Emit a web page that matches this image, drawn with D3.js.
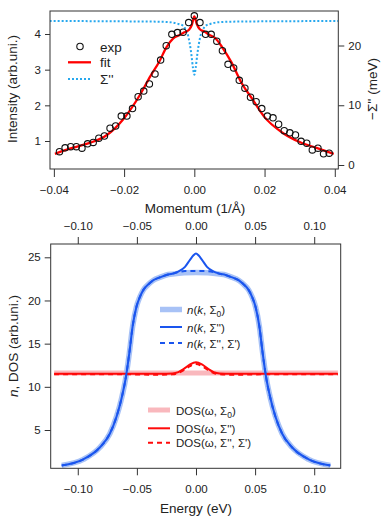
<!DOCTYPE html>
<html><head><meta charset="utf-8">
<script src="https://cdn.jsdelivr.net/npm/d3@7"></script>
<style>
html,body{margin:0;padding:0;background:#fff;}
svg{display:block;font-family:"Liberation Sans",Arial,Helvetica,sans-serif;}
</style></head>
<body>
<svg id="c" width="390" height="519"></svg>
<script>
// ---------- Top panel data ----------
const expK = [-0.0384,-0.0368,-0.0352,-0.0336,-0.0320,-0.0304,-0.0288,-0.0272,-0.0256,-0.0240,-0.0224,-0.0208,-0.0192,-0.0176,-0.0160,-0.0144,-0.0128,-0.0112,-0.0096,-0.0080,-0.0064,-0.0048,-0.0032,-0.0016,0.0000,0.0016,0.0032,0.0048,0.0064,0.0080,0.0096,0.0112,0.0128,0.0144,0.0160,0.0176,0.0192,0.0208,0.0224,0.0240,0.0256,0.0272,0.0288,0.0304,0.0320,0.0336,0.0352,0.0368,0.0384];
const expI = [0.70,0.81,0.84,0.84,0.80,0.92,0.96,1.08,1.14,1.36,1.42,1.70,1.70,1.91,2.24,2.40,2.60,2.88,3.27,3.67,3.99,4.04,4.05,4.32,4.51,4.32,3.99,3.99,3.80,3.53,3.15,3.05,2.70,2.48,2.23,2.10,1.91,1.70,1.65,1.47,1.29,1.23,1.17,0.99,0.94,0.75,0.80,0.64,0.66];
const fitK = [-0.0397,-0.035,-0.030,-0.025,-0.020,-0.0155,-0.0125,-0.010,-0.008,-0.006,-0.004,-0.003,-0.0015,-0.0007,0,0.0007,0.0015,0.003,0.004,0.006,0.008,0.0105,0.0135,0.0165,0.020,0.025,0.030,0.035,0.0397];
const fitI = [0.64,0.80,0.94,1.16,1.64,2.29,2.82,3.22,3.62,3.88,3.98,4.04,4.12,4.26,4.49,4.28,4.14,4.06,3.99,3.88,3.62,3.22,2.62,2.18,1.67,1.24,0.97,0.80,0.64];
const sigK = [-0.0412,-0.012,-0.007,-0.0045,-0.0032,-0.0024,-0.0018,-0.0013,-0.0008,-0.0004,0,0.0004,0.0008,0.0013,0.0018,0.0024,0.0032,0.0045,0.007,0.012,0.0410];
const sigV = [24.1,24.0,23.9,23.6,23.3,22.6,21.7,20.3,18.3,16.3,15.1,16.3,18.3,20.3,21.7,22.6,23.3,23.6,23.9,24.0,24.1];
const topXTicks = [-0.04,-0.02,0.00,0.02,0.04];
const topYLTicks = [1,2,3,4];
const topYRTicks = [0,10,20];

// ---------- Bottom panel data ----------
const nkE = [-0.1136,-0.0953,-0.0812,-0.0728,-0.0671,-0.0629,-0.0592,-0.0564,-0.0536,-0.0503,-0.0475,-0.0446,-0.040,-0.036,-0.030,-0.025,-0.020,-0.010,0,0.010,0.020,0.025,0.030,0.036,0.040,0.0446,0.0475,0.0503,0.0536,0.0564,0.0592,0.0629,0.0671,0.0728,0.0812,0.0953,0.1136];
const nk0 = [0.9,1.6,3.0,4.6,6.6,8.7,11.2,13.9,17.0,19.3,20.4,21.2,21.9,22.35,22.7,22.95,23.05,23.2,23.25,23.2,23.05,22.95,22.7,22.35,21.9,21.2,20.4,19.3,17.0,13.9,11.2,8.7,6.6,4.6,3.0,1.6,0.9];
const nkSE = [-0.1136,-0.0953,-0.0812,-0.0728,-0.0671,-0.0629,-0.0592,-0.0564,-0.0536,-0.0503,-0.0475,-0.0446,-0.040,-0.036,-0.030,-0.025,-0.020,-0.015,-0.0093,-0.0051,-0.0023,0,0.0023,0.0051,0.0093,0.015,0.020,0.025,0.030,0.036,0.040,0.0446,0.0475,0.0503,0.0536,0.0564,0.0592,0.0629,0.0671,0.0728,0.0812,0.0953,0.1136];
const nkS2 = [0.9,1.6,3.0,4.6,6.6,8.7,11.2,13.9,17.0,19.3,20.4,21.2,21.9,22.35,22.7,22.95,23.1,23.35,23.9,24.7,25.2,25.45,25.2,24.7,23.9,23.35,23.1,22.95,22.7,22.35,21.9,21.2,20.4,19.3,17.0,13.9,11.2,8.7,6.6,4.6,3.0,1.6,0.9];
const nkS12 = [0.9,1.6,3.0,4.6,6.6,8.7,11.2,13.9,17.0,19.3,20.4,21.2,21.9,22.35,22.7,22.95,23.1,23.3,23.4,23.4,23.4,23.4,23.4,23.4,23.4,23.3,23.1,22.95,22.7,22.35,21.9,21.2,20.4,19.3,17.0,13.9,11.2,8.7,6.6,4.6,3.0,1.6,0.9];
const dosE = [-0.120,-0.060,-0.030,-0.020,-0.015,-0.010,-0.005,0,0.005,0.010,0.015,0.020,0.030,0.060,0.120];
const dos0 = [11.6,11.6,11.6,11.6,11.6,11.6,11.6,11.6,11.6,11.6,11.6,11.6,11.6,11.6,11.6];
const dosS2 = [11.5,11.5,11.5,11.55,11.7,12.1,12.6,12.85,12.6,12.1,11.7,11.55,11.5,11.5,11.5];
const dosS12 = [11.45,11.45,11.4,11.45,11.6,11.95,12.4,12.65,12.4,11.95,11.6,11.45,11.4,11.45,11.45];
const botXTicks = [-0.10,-0.05,0.00,0.05,0.10];
const botYTicks = [5,10,15,20,25];

// ---------- Drawing ----------
const svg = d3.select("#c");
const axCol = "#333";
const fmt2 = d3.format(".2f");
const fmtI = d3.format("d");

// Top panel scales
const tL = 50, tR = 338.3, tT = 11, tB = 169;
const xT = d3.scaleLinear().domain([-0.0411, 0.0410]).range([tL, tR]);
const yTL = d3.scaleLinear().domain([1, 4]).range([141, 34]);
const yTR = d3.scaleLinear().domain([0, 20]).range([165, 45.5]);

const gt = svg.append("g");
svg.append("defs").append("clipPath").attr("id","clipT").append("rect")
  .attr("x",tL).attr("y",tT).attr("width",tR-tL).attr("height",tB-tT);

// Sigma'' dotted
gt.append("path").attr("clip-path","url(#clipT)")
  .datum(sigK.map((k,i)=>[k,sigV[i]]))
  .attr("fill","none").attr("stroke","#27a8ee").attr("stroke-width",2)
  .attr("stroke-dasharray","2,2")
  .attr("d", d3.line().x(d=>xT(d[0])).y(d=>yTR(d[1])).curve(d3.curveMonotoneX));

// fit
gt.append("path").datum(fitK.map((k,i)=>[k,fitI[i]]))
  .attr("fill","none").attr("stroke","#ff0000").attr("stroke-width",2.3)
  .attr("d", d3.line().x(d=>xT(d[0])).y(d=>yTL(d[1])).curve(d3.curveMonotoneX));

// exp circles
gt.selectAll("circle.exp").data(expK.map((k,i)=>[k,expI[i]])).enter()
  .append("circle").attr("class","exp")
  .attr("cx",d=>xT(d[0])).attr("cy",d=>yTL(d[1])).attr("r",3.2)
  .attr("fill","none").attr("stroke","#111").attr("stroke-width",1.1);

// frame
gt.append("rect").attr("x",tL).attr("y",tT).attr("width",tR-tL).attr("height",tB-tT)
  .attr("fill","none").attr("stroke",axCol).attr("stroke-width",1);

// bottom axis
const axB1 = gt.append("g").attr("transform",`translate(0,${tB})`)
  .call(d3.axisBottom(xT).tickValues(topXTicks).tickFormat(fmt2).tickSize(8).tickSizeOuter(0));
axB1.select(".domain").remove();
axB1.selectAll("line").attr("stroke",axCol);
axB1.selectAll("text").attr("font-size","11.5px").attr("fill","#222").attr("dy","0").attr("y",25);

// left axis
const axL1 = gt.append("g").attr("transform",`translate(${tL},0)`)
  .call(d3.axisLeft(yTL).tickValues(topYLTicks).tickFormat(fmtI).tickSize(5).tickSizeOuter(0));
axL1.select(".domain").remove();
axL1.selectAll("line").attr("stroke",axCol);
axL1.selectAll("text").attr("font-size","11.5px").attr("fill","#222").attr("x",-9);

// right axis
const axR1 = gt.append("g").attr("transform",`translate(${tR},0)`)
  .call(d3.axisRight(yTR).tickValues(topYRTicks).tickFormat(fmtI).tickSize(6).tickSizeOuter(0));
axR1.select(".domain").remove();
axR1.selectAll("line").attr("stroke",axCol);
axR1.selectAll("text").attr("font-size","11.5px").attr("fill","#222").attr("x",10);

// axis labels
gt.append("text").attr("transform","translate(17,89) rotate(-90)").attr("text-anchor","middle")
  .attr("font-size","13.5px").attr("fill","#222").text("Intensity (arb.uni.)");
gt.append("text").attr("transform","translate(377,89) rotate(-90)").attr("text-anchor","middle")
  .attr("font-size","13.5px").attr("fill","#222").text("\u2212\u03A3'' (meV)");
// shared momentum label between panels
gt.append("text").attr("x",195).attr("y",212.5).attr("text-anchor","middle")
  .attr("font-size","13.5px").attr("fill","#222").text("Momentum (1/\u00C5)");

// top legend
gt.append("circle").attr("cx",80).attr("cy",46.5).attr("r",3.2).attr("fill","none").attr("stroke","#111").attr("stroke-width",1.1);
gt.append("line").attr("x1",68).attr("x2",91).attr("y1",62.3).attr("y2",62.3).attr("stroke","#ff0000").attr("stroke-width",2.3);
gt.append("line").attr("x1",68).attr("x2",91).attr("y1",79).attr("y2",79).attr("stroke","#27a8ee").attr("stroke-width",2).attr("stroke-dasharray","2,2");
[["exp",46.5],["fit",62.3],["\u03A3''",79]].forEach(([t,y])=>{
  gt.append("text").attr("x",100).attr("y",y+5).attr("font-size","13.5px").attr("fill","#222").text(t);
});

// Bottom panel
const bL = 50.7, bR = 340.7, bT = 244, bB = 468.3;
const xB = d3.scaleLinear().domain([-0.1229, 0.1224]).range([bL, bR]);
const yB = d3.scaleLinear().domain([5, 25]).range([430, 257.3]);
const gb = svg.append("g");
const lineB = d3.line().x(d=>xB(d[0])).y(d=>yB(d[1])).curve(d3.curveMonotoneX);

const blue = "#1a55ee", lblue = "#a8c2f6", red = "#ff0a0a", pink = "#f9b8bd";

gb.append("path").datum(dosE.map((e,i)=>[e,dos0[i]])).attr("d",lineB)
  .attr("fill","none").attr("stroke",pink).attr("stroke-width",5);
gb.append("path").datum(nkE.map((e,i)=>[e,nk0[i]])).attr("d",lineB)
  .attr("fill","none").attr("stroke",lblue).attr("stroke-width",5.5);
gb.append("path").datum(dosE.map((e,i)=>[e,dosS2[i]])).attr("d",lineB)
  .attr("fill","none").attr("stroke",red).attr("stroke-width",2);
gb.append("path").datum(dosE.map((e,i)=>[e,dosS12[i]])).attr("d",lineB)
  .attr("fill","none").attr("stroke",red).attr("stroke-width",2).attr("stroke-dasharray","5,4");
gb.append("path").datum(nkSE.map((e,i)=>[e,nkS2[i]])).attr("d",lineB)
  .attr("fill","none").attr("stroke",blue).attr("stroke-width",2);
gb.append("path").datum(nkSE.map((e,i)=>[e,nkS12[i]])).attr("d",lineB)
  .attr("fill","none").attr("stroke",blue).attr("stroke-width",2).attr("stroke-dasharray","5,4");

gb.append("rect").attr("x",bL).attr("y",bT).attr("width",bR-bL).attr("height",bB-bT)
  .attr("fill","none").attr("stroke",axCol).attr("stroke-width",1);

const axB2 = gb.append("g").attr("transform",`translate(0,${bB})`)
  .call(d3.axisBottom(xB).tickValues(botXTicks).tickFormat(fmt2).tickSize(7).tickSizeOuter(0));
axB2.select(".domain").remove();
axB2.selectAll("line").attr("stroke",axCol);
axB2.selectAll("text").attr("font-size","11.5px").attr("fill","#222").attr("dy","0").attr("y",25);

const axT2 = gb.append("g").attr("transform",`translate(0,${bT})`)
  .call(d3.axisTop(xB).tickValues(botXTicks).tickFormat(fmt2).tickSize(7).tickSizeOuter(0));
axT2.select(".domain").remove();
axT2.selectAll("line").attr("stroke",axCol);
axT2.selectAll("text").attr("font-size","11.5px").attr("fill","#222").attr("dy","0").attr("y",-14);

const axL2 = gb.append("g").attr("transform",`translate(${bL},0)`)
  .call(d3.axisLeft(yB).tickValues(botYTicks).tickFormat(fmtI).tickSize(6).tickSizeOuter(0));
axL2.select(".domain").remove();
axL2.selectAll("line").attr("stroke",axCol);
axL2.selectAll("text").attr("font-size","11.5px").attr("fill","#222").attr("x",-10);

gb.append("text").attr("x",196).attr("y",513).attr("text-anchor","middle")
  .attr("font-size","13.5px").attr("fill","#222").text("Energy (eV)");
const yl = gb.append("text").attr("transform","translate(18,346) rotate(-90)").attr("text-anchor","middle")
  .attr("font-size","13.5px").attr("fill","#222");
yl.append("tspan").attr("font-style","italic").text("n");
yl.append("tspan").text(", DOS (arb.uni.)");

// bottom legends
function legText(x, y, parts) {
  const t = gb.append("text").attr("x",x).attr("y",y+4.5).attr("font-size","11.5px").attr("fill","#222");
  parts.forEach(p=>{
    const s = t.append("tspan").text(p.t);
    if (p.i) s.attr("font-style","italic");
    if (p.sub) s.attr("font-size","8.5px").attr("dy","3");
    if (p.up) s.attr("dy","-3");
  });
}
function legLine(x1,x2,y,col,w,dash){
  const l = gb.append("line").attr("x1",x1).attr("x2",x2).attr("y1",y).attr("y2",y).attr("stroke",col).attr("stroke-width",w);
  if (dash) l.attr("stroke-dasharray",dash);
}
legLine(160,182,309.5,lblue,5.5);
legLine(160,182,327,blue,2);
legLine(160,182,343,blue,2,"5,4");
legText(187,309.5,[{t:"n",i:1},{t:"("},{t:"k",i:1},{t:", \u03A3"},{t:"0",sub:1},{t:")",up:1}]);
legText(187,327,[{t:"n",i:1},{t:"("},{t:"k",i:1},{t:", \u03A3'')"}]);
legText(187,343,[{t:"n",i:1},{t:"("},{t:"k",i:1},{t:", \u03A3'', \u03A3')"}]);

legLine(148,170,410,pink,5);
legLine(148,170,428.3,red,2);
legLine(148,170,442.7,red,2,"5,4");
legText(176,410,[{t:"DOS(\u03C9, \u03A3"},{t:"0",sub:1},{t:")",up:1}]);
legText(176,428.3,[{t:"DOS(\u03C9, \u03A3'')"}]);
legText(176,442.7,[{t:"DOS(\u03C9, \u03A3'', \u03A3')"}]);
</script>
</body></html>
